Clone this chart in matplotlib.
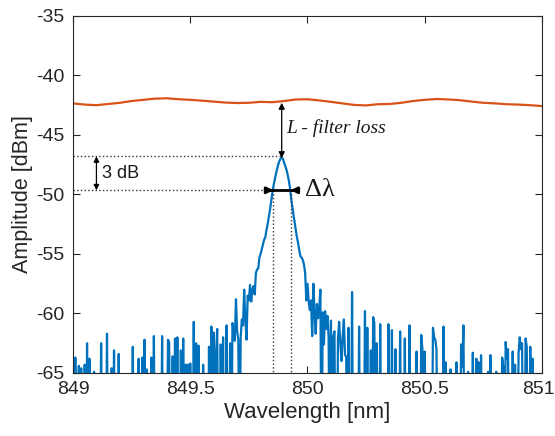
import numpy as np
import matplotlib
matplotlib.use("Agg")
import matplotlib.pyplot as plt
import matplotlib.transforms as mtransforms

# --- datos ---
F = -75.0  # suelo de ruido (fuera del eje)

# espectro filtrado (azul), paso de 0.005 nm desde 849.000 a 851.000
filtered_db = [
    F, F, -63.7, F, F, -64.4, F, -64.6, F, F, -64.3, F, -62.5, F, -63.8, F, F, F, -64.9, F,
    F, F, F, F, -62.5, F, F, F, F, -61.7, F, F, F, -64.6, F, -63.1, F, F, F, -63.4,
    F, F, F, F, F, F, F, F, F, F, F, -62.8, F, F, F, F, -63.8, F, F, -63.7,
    F, -62.2, F, -64.7, F, F, F, -63.7, F, -61.9, F, F, F, F, F, F, -61.9, F, F, F,
    F, -62.2, -62.4, F, F, -63.6, F, -62.1, F, -62.0, F, F, -63.1, F, -62.1, F, -64.3, F, -64.3, F,
    -64.2, F, F, -60.7, F, -62.5, F, -62.7, F, F, F, -64.3, F, F, F, F, -62.8, F, -61.1, F,
    -61.6, F, -63.3, -61.3, F, F, -62.6, F, -62.0, F, F, -61.0, F, F, -62.5, F, -60.8, -61.4, -62.3, -58.8,
    -61.5, -62.2, F, -62.0, -60.5, -61.0, -58.0, -60.5, -62.2, -58.5, -58.9, -57.6, -59.0, -58.0, -57.7, -58.4, -56.6, -56.3, -56.2, -55.3,
    -55.0, -54.6, -54.2, -53.8, -53.6, -53.0, -52.5, -51.9, -51.3, -50.6, -49.9, -49.3, -48.8, -48.3, -47.9, -47.5, -47.2, -47.0, -46.9, -47.0,
    -47.3, -47.6, -47.9, -48.3, -48.8, -49.4, -50.3, -51.0, -51.7, -52.3, -53.0, -53.6, -54.1, -54.7, -55.2, -55.3, -55.5, -55.9, -56.6, -58.9,
    -57.5, -59.0, -59.7, -58.9, -61.9, -57.5, -60.0, -61.7, -59.2, -60.4, -59.5, -58.0, F, -59.9, -62.6, -59.8, -61.3, -60.2, -62.0, F,
    -60.6, F, -61.9, -61.5, F, F, -62.1, -60.7, -62.5, -64.0, -62.0, -60.5, -63.5, -63.6, F, -61.2, F, F, -58.2, F,
    F, F, F, F, -61.1, F, F, F, F, -59.8, F, -61.2, F, F, -63.1, F, -60.3, -60.8, F, -62.5,
    F, F, -60.9, F, F, F, F, F, F, -60.9, F, F, -61.4, F, F, -63.0, F, F, F, -61.5,
    F, F, F, -62.1, F, F, F, -61.0, F, F, F, F, F, -63.2, F, F, F, -61.8, -63.0, F,
    -63.2, F, F, F, F, F, F, -61.2, -62.0, -62.2, -63.0, F, F, F, F, F, -61.1, F, -64.1, F,
    F, F, -64.7, F, F, F, F, -64.1, F, F, F, -62.6, -64.5, -61.0, F, F, F, -64.9, F, F,
    F, -63.3, F, F, -63.8, F, -64.1, F, -63.5, F, F, F, F, F, -64.9, F, -63.5, F, F, F,
    F, -64.9, F, F, F, F, -63.7, -64.5, F, -62.4, -63.8, -63.0, F, F, F, -63.2, F, -64.3, F, F,
    -63.3, -62.0, -63.0, -62.5, F, F, -62.1, -62.8, F, F, -62.8, F, -63.8, F, F, F, F, F, F, F,
    F,
]

# fuente sin filtrar (naranja), paso de 0.05 nm
source_db = [
    -42.35, -42.45, -42.50, -42.40, -42.30, -42.15, -42.05, -41.95, -41.92, -42.00,
    -42.05, -42.12, -42.20, -42.28, -42.32, -42.30, -42.22, -42.25, -42.15, -42.02,
    -42.00, -42.10, -42.22, -42.35, -42.48, -42.52, -42.42, -42.40, -42.30, -42.15,
    -42.05, -41.98, -42.02, -42.08, -42.20, -42.30, -42.35, -42.42, -42.45, -42.50,
    -42.58,
]

wl_filtered = np.linspace(849, 851, len(filtered_db))
wl_source = np.linspace(849, 851, len(source_db))

peak_wl = 849.89
peak_db = -46.8
half_db = -49.65
fwhm_left = 849.854
fwhm_right = 849.928

xticks = [849, 849.5, 850, 850.5, 851]
xticklabels = ["849", "849.5", "850", "850.5", "851"]
yticks = [-65, -60, -55, -50, -45, -40, -35]

plt.rcParams["font.family"] = ["Liberation Sans", "DejaVu Sans"]
plt.rcParams["axes.unicode_minus"] = False

fig = plt.figure(figsize=(5.55, 4.36), dpi=100)
ax = fig.add_axes([0.1315, 0.1445, 0.8451, 0.819])

ax.plot(wl_source, source_db, color="#D95319", lw=1.6)
ax.plot(wl_filtered, filtered_db, color="#0072BD", lw=1.6)

# lineas punteadas de referencia
ax.plot([849, peak_wl], [peak_db, peak_db], ":", color="#333333", lw=1)
ax.plot([849, 849.833], [half_db, half_db], ":", color="#333333", lw=1)
ax.plot([fwhm_left, fwhm_left], [half_db, -65], ":", color="#333333", lw=1)
ax.plot([fwhm_right, fwhm_right], [half_db, -65], ":", color="#333333", lw=1)

# flecha 3 dB
ax.annotate("", xy=(849.10, peak_db), xytext=(849.10, half_db),
            arrowprops=dict(arrowstyle="<|-|>", color="black", lw=0.9,
                            mutation_scale=8, shrinkA=0, shrinkB=0))
ax.text(849.125, -48.25, "3 dB", fontsize=13, va="center", ha="left", color="#1a1a1a")

# flecha perdida del filtro
ax.annotate("", xy=(peak_wl, -42.3), xytext=(peak_wl, -46.95),
            arrowprops=dict(arrowstyle="<|-|>", color="black", lw=0.9,
                            mutation_scale=9, shrinkA=0, shrinkB=0))
ax.text(849.91, -44.4, "L - filter loss", fontsize=14, style="italic",
        family="Liberation Serif", va="center", ha="left", color="#1a1a1a")

# delta lambda
ax.plot([849.833, 849.950], [half_db, half_db], color="black", lw=2)
ax.annotate("", xy=(fwhm_left, half_db), xytext=(849.833, half_db),
            arrowprops=dict(arrowstyle="-|>", color="black", lw=2,
                            mutation_scale=9, shrinkA=0, shrinkB=0))
ax.annotate("", xy=(fwhm_right, half_db), xytext=(849.950, half_db),
            arrowprops=dict(arrowstyle="-|>", color="black", lw=2,
                            mutation_scale=9, shrinkA=0, shrinkB=0))
ax.text(849.99, -49.65, "Δλ", fontsize=19, family="Liberation Serif",
        va="center", ha="left", color="#1a1a1a")

ax.set_xlim(849, 851)
ax.set_ylim(-65, -35)
ax.set_xticks(xticks)
ax.set_xticklabels(xticklabels)
ax.set_yticks(yticks)
ax.tick_params(direction="in", top=True, right=True, length=5, width=0.8,
               labelsize=14, colors="#262626", pad=6)
for s in ax.spines.values():
    s.set_color("#262626")
    s.set_linewidth(0.8)

# la ultima etiqueta del eje x queda pegada al borde
last = ax.get_xticklabels()[-1]
last.set_transform(last.get_transform() +
                   mtransforms.ScaledTranslation(-4 / 100, 0, fig.dpi_scale_trans))

ax.set_xlabel("Wavelength [nm]", fontsize=16, color="#262626", labelpad=3)
ax.set_ylabel("Amplitude [dBm]", fontsize=15.5, color="#262626", labelpad=2)

fig.savefig("out.png", dpi=100)
